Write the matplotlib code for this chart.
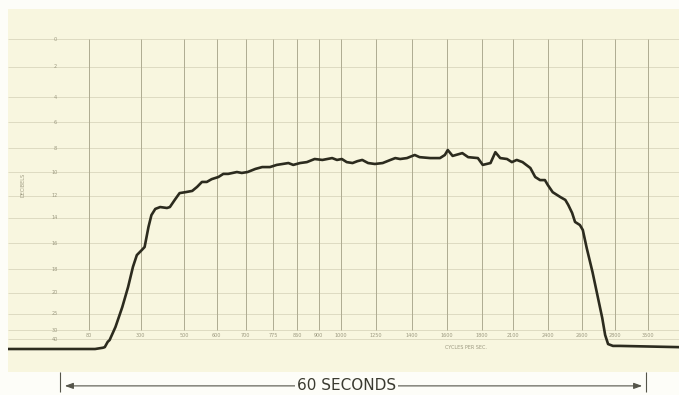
import matplotlib.pyplot as plt

# Sweep time in seconds and pen deflection (0 = rest line, 100 = top ruling)
sweep_t = [-5.6, 3.4, 4.2, 4.4, 4.7, 4.9, 5.5, 6.2, 6.8, 7.3, 7.7, 8.2, 8.5, 8.9,
           9.2, 9.6, 10.1, 10.8, 11.1, 11.6, 12.1, 12.7, 13.4, 13.9, 14.4, 14.9,
           15.4, 16.1, 16.6, 17.1, 18.0, 18.5, 19.1, 19.9, 20.6, 21.4, 22.1,
           22.7, 23.3, 23.8, 24.5, 25.2, 26.0, 26.8, 27.3, 27.8, 28.3, 28.8,
           29.3, 29.9, 30.4, 30.9, 31.5, 32.2, 33.0, 33.8, 34.3, 34.8, 35.5,
           36.3, 36.8, 37.9, 38.9, 39.4, 39.7, 40.2, 41.2, 41.8, 42.8, 43.3,
           44.1, 44.6, 45.1, 45.8, 46.3, 46.8, 47.4, 48.2, 48.7, 49.2, 49.7,
           50.0, 50.5, 51.3, 51.8, 52.1, 52.5, 52.8, 53.3, 53.6, 54.0, 54.6,
           55.1, 55.6, 55.9, 56.2, 56.7, 57.4, 63.5]
deflection = [0.0, 0.0, 0.4, 0.6, 2.3, 2.9, 7.1, 13.5, 20.0, 26.5, 30.3, 31.9,
              32.9, 39.4, 43.2, 45.2, 45.8, 45.5, 45.8, 48.1, 50.3, 50.6, 51.0,
              52.3, 53.9, 53.9, 54.8, 55.5, 56.5, 56.5, 57.1, 56.8, 57.1, 58.1,
              58.7, 58.7, 59.4, 59.7, 60.0, 59.4, 60.0, 60.3, 61.3, 61.0, 61.3,
              61.6, 61.0, 61.3, 60.3, 60.0, 60.6, 61.0, 60.0, 59.7, 60.0, 61.0,
              61.6, 61.3, 61.6, 62.6, 61.9, 61.6, 61.6, 62.6, 64.2, 62.3, 63.2,
              61.9, 61.6, 59.4, 60.0, 63.5, 61.6, 61.3, 60.3, 61.0, 60.3, 58.4,
              55.5, 54.5, 54.5, 52.9, 50.6, 49.0, 48.1, 46.5, 43.9, 41.0, 40.0,
              38.4, 32.6, 24.8, 17.4, 10.0, 4.5, 1.6, 1.0, 1.0, 0.6]

# chart paper rulings
freq_pos = [2.8, 8.1, 12.6, 15.9, 18.9, 21.7, 24.2, 26.4, 28.7, 32.3, 36.0,
            39.6, 43.2, 46.4, 50.0, 53.5, 56.9, 60.3]
freq_labels = ["80", "300", "500", "600", "700", "775", "860", "900", "1000",
               "1250", "1400", "1600", "1800", "2100", "2400", "2600", "2800",
               "3500"]
db_pos = [100, 91.0, 81.3, 73.2, 64.8, 57.1, 49.4, 42.3, 34.2, 25.8, 18.1,
          11.3, 6.1, 3.2]
db_labels = ["0", "2", "4", "6", "8", "10", "12", "14", "16", "18", "20",
             "25", "30", "40"]

paper = "#f8f6df"
ink = "#2c2b1e"
rule_v = "#aeab91"
rule_h = "#dedbc2"
print_grey = "#9c9980"

fig = plt.figure(figsize=(6.79, 3.95), dpi=100)
fig.patch.set_facecolor("#fdfdf8")
ax = fig.add_axes([8 / 679, 1 - 372 / 395, 671 / 679, 363 / 395])
ax.set_facecolor(paper)
ax.set_xlim(-5.56, 63.5)
ax.set_ylim(-7.42, 109.7)
for s in ax.spines.values():
    s.set_visible(False)
ax.set_xticks([])
ax.set_yticks([])

ax.hlines(db_pos, -5.56, 63.5, color=rule_h, lw=0.7, zorder=1)
ax.vlines(freq_pos, 6.1, 100, color=rule_v, lw=0.7, zorder=1)

for y, lab in zip(db_pos, db_labels):
    ax.text(-0.72, y, lab, fontsize=3.5, color=print_grey, ha="center",
            va="center", zorder=2)
for x, lab in zip(freq_pos, freq_labels):
    ax.text(x, 4.2, lab, fontsize=3.5, color=print_grey, ha="center",
            va="center", zorder=2)
ax.text(-4.0, 52.9, "DECIBELS", fontsize=3.5, color=print_grey, rotation=90,
        ha="center", va="center")
ax.text(41.6, 0.6, "CYCLES PER SEC.", fontsize=3.5, color=print_grey,
        ha="center", va="center")

ax.plot(sweep_t, deflection, color=ink, lw=1.9, solid_joinstyle="round",
        solid_capstyle="round", zorder=3)

# time bar under the chart
bar_y = -11.9
arrow_col = "#55554a"
ax.annotate("", xy=(0, bar_y), xytext=(29.3, bar_y), annotation_clip=False,
            arrowprops=dict(arrowstyle="-|>,head_length=0.5,head_width=0.18",
                            color=arrow_col, lw=0.8))
ax.annotate("", xy=(60, bar_y), xytext=(29.3, bar_y), annotation_clip=False,
            arrowprops=dict(arrowstyle="-|>,head_length=0.5,head_width=0.18",
                            color=arrow_col, lw=0.8))
ax.vlines([-0.2, 60.1], -13.9, -7.4, color=arrow_col, lw=0.8, clip_on=False)
ax.text(29.3, bar_y, "60 SECONDS", fontsize=11, color="#3a3a30", ha="center",
        va="center", clip_on=False,
        bbox=dict(facecolor="#fdfdf8", edgecolor="none", pad=1.5))

fig.savefig("out.png", dpi=100, facecolor=fig.get_facecolor())
